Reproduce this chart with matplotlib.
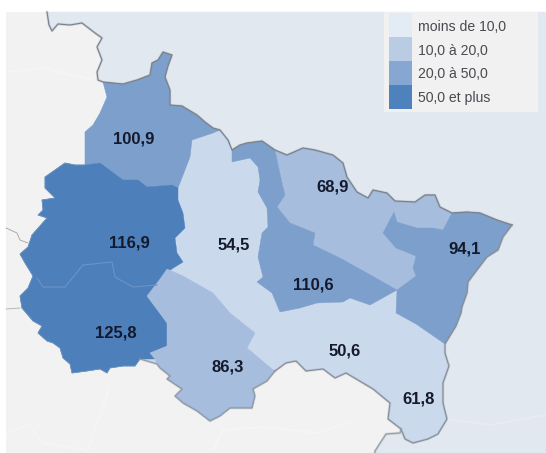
import matplotlib
matplotlib.use("Agg")
import matplotlib.pyplot as plt
import matplotlib.patheffects as pe
from matplotlib.patches import Polygon, Rectangle

plt.rcParams['font.family'] = ['Liberation Sans', 'DejaVu Sans']

# --- DATA ---
VALUES = [100.9, 116.9, 125.8, 54.5, 86.3, 110.6, 68.9, 94.1, 50.6, 61.8]
LEGEND_LABELS = ['moins de 10,0', '10,0 à 20,0', '20,0 à 50,0', '50,0 et plus']

# label anchors, same order as VALUES (map pixels)
LABEL_X = [134, 129, 116, 234, 228, 313, 333, 465, 345, 419]
LABEL_Y = [139, 243, 333, 245, 367, 285, 187, 249, 351, 399]

BORDER_NORTH = [(47, 12), (49, 25), (52, 31), (58, 24), (70, 25), (82, 23), (95, 33), (102, 38), (97, 47),
                (102, 60), (97, 72), (98, 80), (103, 82), (123, 84), (137, 80), (150, 75), (152, 63), (158, 60),
                (163, 52), (172, 55), (168, 66), (165, 77), (170, 90), (170, 105), (182, 106), (197, 115),
                (205, 122), (213, 128), (220, 130), (228, 140), (232, 150), (240, 145), (247, 143), (262, 141),
                (275, 150), (287, 155), (303, 148), (315, 150), (333, 155), (343, 163), (347, 177), (357, 192),
                (368, 198), (373, 190), (387, 193), (395, 201), (415, 202), (425, 195), (435, 195), (440, 207),
                (452, 213), (467, 212), (480, 213), (497, 220), (512, 225)]
BORDER_EAST = [(512, 225), (503, 237), (498, 250), (487, 257), (477, 270), (468, 282), (467, 293), (462, 307),
               (461, 313), (456, 326), (445, 344), (445, 353), (449, 366), (443, 383), (443, 403), (447, 419),
               (438, 434), (428, 439), (413, 443), (405, 439), (401, 429), (388, 419), (390, 403), (373, 389),
               (346, 373), (335, 378), (323, 369), (306, 371), (296, 361), (286, 363), (275, 371)]
BORDER_SOUTH = [(275, 371), (267, 381), (253, 389), (255, 396), (252, 408), (243, 408), (230, 408), (220, 416),
                (210, 421), (197, 411), (183, 403), (175, 396), (182, 389), (167, 379), (170, 376), (160, 368),
                (157, 364), (140, 359), (135, 366), (123, 366), (110, 368), (107, 373), (100, 369), (87, 371),
                (72, 373), (70, 364), (63, 358), (60, 348), (53, 343), (47, 341), (38, 333), (42, 326), (33, 321),
                (22, 308), (20, 296), (28, 288), (33, 276), (25, 263), (20, 254), (28, 247), (32, 235), (47, 218),
                (38, 215), (43, 210), (42, 200), (55, 198), (45, 188), (45, 177), (55, 170), (65, 163), (75, 165),
                (85, 165)]
BORDER_WEST = [(85, 165), (85, 132), (93, 125), (100, 113), (107, 97), (103, 82)]
SWISS_EDGE = [(401, 429), (400, 433), (386, 434), (375, 451), (375, 453)]

AISNE_LOW = [(85, 165), (100, 163), (123, 180), (138, 180), (147, 187), (172, 185), (178, 188)]
AISNE_EAST = [(178, 188), (185, 170), (190, 157), (192, 140), (213, 133), (220, 130)]
MARNE_EAST = [(178, 188), (178, 200), (183, 213), (185, 228), (175, 238), (177, 253), (183, 262), (167, 272),
              (157, 287), (147, 296), (167, 323), (167, 346), (150, 353), (155, 359), (140, 359)]
AUBE_TOP = [(147, 296), (160, 279), (167, 269), (183, 276), (213, 293), (230, 313), (255, 333), (247, 348),
            (272, 369), (275, 371)]
MEUSE_WEST = [(232, 150), (232, 162), (250, 158), (258, 167), (260, 180), (258, 192), (267, 208), (268, 227),
              (262, 233), (258, 257), (263, 277), (257, 282), (272, 293), (280, 312), (300, 308), (317, 303),
              (343, 302), (350, 298), (370, 305), (397, 290)]
MEUSE_EAST = [(275, 150), (277, 160), (282, 183), (285, 195), (277, 207), (290, 223), (315, 233), (313, 245),
              (340, 258), (367, 273), (397, 290)]
MOSELLE_TOP = [(452, 213), (443, 230), (433, 228), (417, 228), (397, 222), (394, 212), (383, 233), (396, 248),
               (416, 256), (413, 268), (416, 276), (397, 290)]
MOSELLE_LOW = [(397, 290), (396, 313), (416, 324), (445, 344)]
INNER_LINE = [(37, 278), (43, 287), (65, 287), (83, 265), (112, 262), (115, 277), (133, 287), (157, 285)]
WEST_LINE_A = [(6, 228), (17, 233), (20, 240), (28, 243)]
WEST_LINE_B = [(6, 309), (20, 308)]
FAINT_WEST = [[(7, 72), (43, 68), (93, 80)],
              [(7, 433), (28, 425), (43, 443), (87, 450)],
              [(87, 453), (97, 423), (110, 387)],
              [(213, 450), (223, 430), (263, 427), (317, 433), (350, 422)]]
FAINT_EAST = [[(447, 419), (490, 425), (546, 415)]]

BG_WEST = '#f2f2f2'
BG_EAST = '#e2e8f0'
C0, C1, C2, C3 = '#cbd9ec', '#a6bddd', '#7d9fcc', '#4d7fba'
SWATCHES = ['#e3ecf4', '#b9cce3', '#86a7d1', '#4d82bd']


def cut(line, start, end):
    return line[line.index(start):line.index(end) + 1]


fig = plt.figure(figsize=(5.46, 4.53), dpi=100)
ax = fig.add_axes([0, 0, 1, 1])
ax.set_xlim(0, 546)
ax.set_ylim(453, 0)
ax.axis('off')


def fill(points, color, z=2):
    ax.add_patch(Polygon(points, closed=True, facecolor=color, edgecolor=color, linewidth=0.3, zorder=z))


# background
ax.add_patch(Rectangle((6, 12), 540, 441, facecolor=BG_WEST, edgecolor='none', zorder=0))
fill(BORDER_NORTH + BORDER_EAST[1:BORDER_EAST.index((401, 429))] + SWISS_EDGE + [(546, 453), (546, 12)], BG_EAST, 1)
for line in FAINT_WEST:
    ax.plot(*zip(*line), color='#f5f5f5', linewidth=1.4, zorder=1)
for line in FAINT_EAST:
    ax.plot(*zip(*line), color='#e7ecf3', linewidth=1.4, zorder=1)

# whole region first, the darker classes go over it
outline = cut(BORDER_NORTH, (103, 82), (512, 225)) + BORDER_EAST[1:] + BORDER_SOUTH[1:] + BORDER_WEST[1:]
fill(outline, C0)

# 100,9
fill(BORDER_WEST + cut(BORDER_NORTH, (103, 82), (220, 130))[1:] + AISNE_EAST[::-1][1:] + AISNE_LOW[::-1][1:], C2, 3)
# 116,9 + 125,8
fill(AISNE_LOW + MARNE_EAST[1:] + cut(BORDER_SOUTH, (140, 359), (85, 165))[1:], C3, 3)
# 86,3
fill(AUBE_TOP + cut(BORDER_SOUTH, (275, 371), (157, 364))[1:] + [(155, 359), (150, 353), (167, 346), (167, 323)], C1, 3)
# 68,9
fill(MEUSE_EAST + MOSELLE_TOP[::-1][1:] + cut(BORDER_NORTH, (275, 150), (452, 213))[::-1][1:], C1, 3)
# 110,6
fill(MEUSE_WEST + MEUSE_EAST[::-1][1:] + cut(BORDER_NORTH, (232, 150), (275, 150))[::-1][1:], C2, 4)
# 94,1
fill(MOSELLE_TOP + MOSELLE_LOW[1:] + BORDER_EAST[:BORDER_EAST.index((445, 344))][::-1] +
     cut(BORDER_NORTH, (452, 213), (512, 225))[::-1][:-1], C2, 4)

# borders, a wide pale stroke under the thin one to keep them soft
soft = [pe.Stroke(linewidth=1.8, foreground='#8a929c', alpha=0.3), pe.Normal()]
south_split = BORDER_SOUTH.index((140, 359))
for line, col, lw, z in [(BORDER_NORTH, '#78818b', 0.8, 6), (BORDER_EAST, '#858e98', 0.8, 6),
                         (BORDER_SOUTH[:south_split + 1], '#8d97a3', 0.7, 6),
                         (SWISS_EDGE, '#949ca5', 0.8, 6)]:
    ax.plot(*zip(*line), color=col, linewidth=lw, zorder=z, solid_joinstyle='round', path_effects=soft)
ax.plot(*zip(*BORDER_SOUTH[south_split:]), color='#6f93bf', linewidth=0.6, zorder=6)
ax.plot(*zip(*INNER_LINE), color='#6b94c6', linewidth=0.8, zorder=6)
ax.plot(*zip(*WEST_LINE_A), color='#a0a0a0', linewidth=0.6, zorder=1)
ax.plot(*zip(*WEST_LINE_B), color='#adadad', linewidth=0.6, zorder=1)

# value labels
for x, y, v in zip(LABEL_X, LABEL_Y, VALUES):
    ax.text(x, y, f'{v:.1f}'.replace('.', ','), ha='center', va='center', fontsize=12, fontweight='bold',
            color='#14192c', zorder=8)

# legend
ax.add_patch(Rectangle((384, 12), 154, 100, facecolor='#f1f1f1', edgecolor='none', zorder=7))
for i, (lab, col) in enumerate(zip(LEGEND_LABELS, SWATCHES)):
    ax.add_patch(Rectangle((389, 13 + i * 24), 23, 24, facecolor=col, edgecolor='none', zorder=8))
    ax.text(418, 27 + i * 23.7, lab, ha='left', va='center', fontsize=10.1, color='#4a4a52', zorder=8)

fig.savefig('out.png', dpi=100)
